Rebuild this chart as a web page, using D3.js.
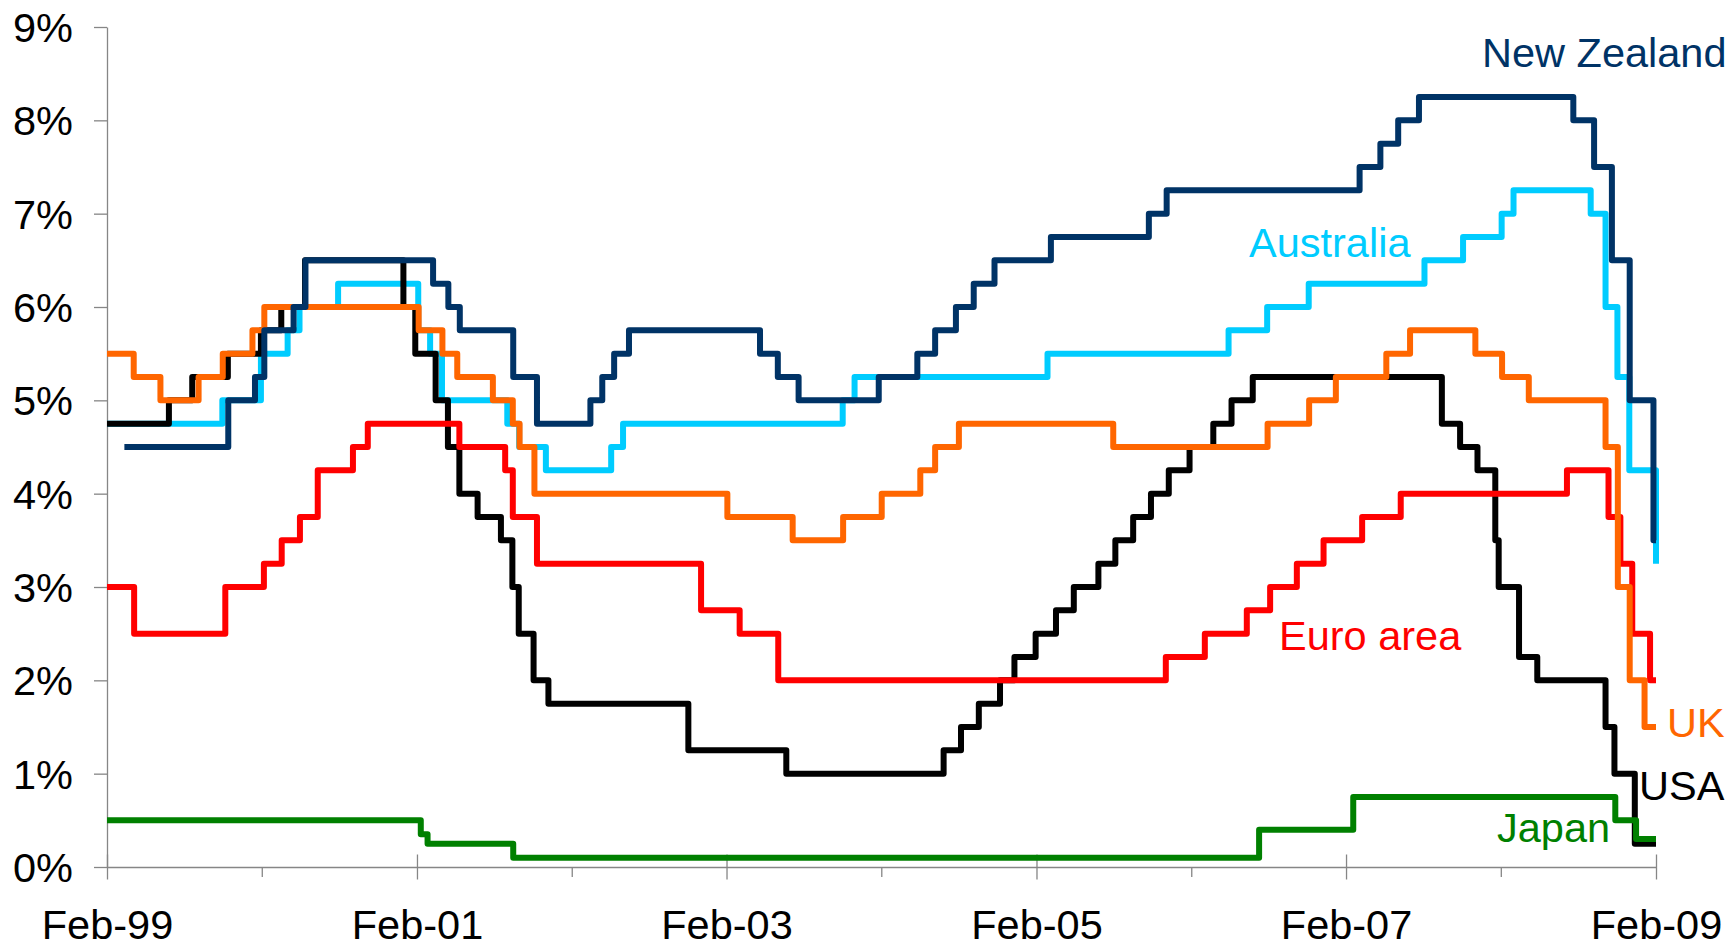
<!DOCTYPE html>
<html>
<head>
<meta charset="utf-8">
<script src="https://cdn.jsdelivr.net/npm/d3@7"></script>
<style>
  html, body { margin: 0; padding: 0; background: #fff; }
  svg { display: block; font-family: "Liberation Sans", Arial, sans-serif; }
</style>
</head>
<body>
<svg id="chart" width="1735" height="949"></svg>
<script>
// ---- Data: policy rate change points [date, rate %] ----
const startDate = "1999-02-04";
const endDate = "2009-02-04";

const australia = [
  ["1999-02-04",4.75],["1999-11-03",5.00],["2000-02-02",5.50],["2000-04-05",5.75],["2000-05-03",6.00],
  ["2000-08-02",6.25],["2001-02-07",5.75],["2001-03-07",5.50],["2001-04-04",5.00],["2001-09-05",4.75],
  ["2001-10-03",4.50],["2001-12-05",4.25],["2002-05-08",4.50],["2002-06-05",4.75],["2003-11-05",5.00],
  ["2003-12-03",5.25],["2005-03-02",5.50],["2006-05-03",5.75],["2006-08-02",6.00],["2006-11-08",6.25],
  ["2007-08-08",6.50],["2007-11-07",6.75],["2008-02-06",7.00],["2008-03-05",7.25],["2008-09-03",7.00],
  ["2008-10-08",6.00],["2008-11-05",5.25],["2008-12-03",4.25],["2009-02-04",3.25]
];

const usa = [
  ["1999-02-04",4.75],["1999-06-30",5.00],["1999-08-24",5.25],["1999-11-16",5.50],["2000-02-02",5.75],
  ["2000-03-21",6.00],["2000-05-16",6.50],["2001-01-03",6.00],["2001-01-31",5.50],["2001-03-20",5.00],
  ["2001-04-18",4.50],["2001-05-15",4.00],["2001-06-27",3.75],["2001-08-21",3.50],["2001-09-17",3.00],
  ["2001-10-02",2.50],["2001-11-06",2.00],["2001-12-11",1.75],["2002-11-06",1.25],["2003-06-25",1.00],
  ["2004-06-30",1.25],["2004-08-10",1.50],["2004-09-21",1.75],["2004-11-10",2.00],["2004-12-14",2.25],
  ["2005-02-02",2.50],["2005-03-22",2.75],["2005-05-03",3.00],["2005-06-30",3.25],["2005-08-09",3.50],
  ["2005-09-20",3.75],["2005-11-01",4.00],["2005-12-13",4.25],["2006-01-31",4.50],["2006-03-28",4.75],
  ["2006-05-10",5.00],["2006-06-29",5.25],["2007-09-18",4.75],["2007-10-31",4.50],["2007-12-11",4.25],
  ["2008-01-22",3.50],["2008-01-30",3.00],["2008-03-18",2.25],["2008-04-30",2.00],["2008-10-08",1.50],
  ["2008-10-29",1.00],["2008-12-16",0.25],["2009-02-04",0.25]
];

const euroArea = [
  ["1999-02-04",3.00],["1999-04-09",2.50],["1999-11-10",3.00],["2000-02-09",3.25],["2000-03-22",3.50],
  ["2000-05-04",3.75],["2000-06-15",4.25],["2000-09-06",4.50],["2000-10-11",4.75],["2001-05-15",4.50],
  ["2001-08-31",4.25],["2001-09-18",3.75],["2001-11-14",3.25],["2002-12-06",2.75],["2003-03-07",2.50],
  ["2003-06-06",2.00],["2005-12-06",2.25],["2006-03-08",2.50],["2006-06-15",2.75],["2006-08-09",3.00],
  ["2006-10-11",3.25],["2006-12-13",3.50],["2007-03-14",3.75],["2007-06-13",4.00],["2008-07-09",4.25],
  ["2008-10-15",3.75],["2008-11-12",3.25],["2008-12-10",2.50],["2009-01-21",2.00],["2009-02-04",2.00]
];

const uk = [
  ["1999-02-04",5.50],["1999-04-08",5.25],["1999-06-10",5.00],["1999-09-08",5.25],["1999-11-04",5.50],
  ["2000-01-13",5.75],["2000-02-10",6.00],["2001-02-08",5.75],["2001-04-05",5.50],["2001-05-10",5.25],
  ["2001-08-02",5.00],["2001-09-18",4.75],["2001-10-04",4.50],["2001-11-08",4.00],["2003-02-06",3.75],
  ["2003-07-10",3.50],["2003-11-06",3.75],["2004-02-05",4.00],["2004-05-06",4.25],["2004-06-10",4.50],
  ["2004-08-05",4.75],["2005-08-04",4.50],["2006-08-03",4.75],["2006-11-09",5.00],["2007-01-11",5.25],
  ["2007-05-10",5.50],["2007-07-05",5.75],["2007-12-06",5.50],["2008-02-07",5.25],["2008-04-10",5.00],
  ["2008-10-08",4.50],["2008-11-06",3.00],["2008-12-04",2.00],["2009-01-08",1.50],["2009-02-04",1.50]
];

const newZealand = [
  ["1999-03-17",4.50],["1999-11-17",5.00],["2000-01-19",5.25],["2000-02-10",5.75],["2000-04-19",6.00],
  ["2000-05-17",6.50],["2001-03-14",6.25],["2001-04-19",6.00],["2001-05-16",5.75],["2001-09-19",5.25],
  ["2001-11-14",4.75],["2002-03-20",5.00],["2002-04-17",5.25],["2002-05-15",5.50],["2002-06-19",5.75],
  ["2003-04-24",5.50],["2003-06-05",5.25],["2003-07-24",5.00],["2004-01-29",5.25],["2004-04-29",5.50],
  ["2004-06-10",5.75],["2004-07-29",6.00],["2004-09-09",6.25],["2004-10-28",6.50],["2005-03-10",6.75],
  ["2005-10-27",7.00],["2005-12-08",7.25],["2007-03-08",7.50],["2007-04-26",7.75],["2007-06-07",8.00],
  ["2007-07-26",8.25],["2008-07-24",8.00],["2008-09-11",7.50],["2008-10-23",6.50],["2008-12-04",5.00],
  ["2009-01-29",3.50],["2009-02-04",3.50]
];

const japan = [
  ["1999-02-04",0.50],["2001-02-13",0.35],["2001-03-01",0.25],["2001-09-19",0.10],["2006-07-14",0.40],
  ["2007-02-21",0.75],["2008-10-31",0.50],["2008-12-19",0.30],["2009-02-04",0.30]
];

const yTickValues = [0,1,2,3,4,5,6,7,8,9];
const xMajorTicks = ["1999-02-04","2001-02-04","2003-02-04","2005-02-04","2007-02-04","2009-02-04"];
const xMinorTicks = ["2000-02-04","2002-02-04","2004-02-04","2006-02-04","2008-02-04"];

const seriesNames = ["Australia","USA","Euro area","UK","New Zealand","Japan"];
const seriesData  = [australia, usa, euroArea, uk, newZealand, japan];

// ---- Styles / layout ----
const colors = {
  "Australia":"#00CCFF","USA":"#000000","Euro area":"#FF0000",
  "UK":"#FF6600","New Zealand":"#003366","Japan":"#008000"
};
const labelPos = {
  "New Zealand":[1482,67], "Australia":[1249,257], "Euro area":[1279,650],
  "UK":[1667,737], "USA":[1639,800], "Japan":[1497,842]
};
const fontSize = 41.5;
const axisColor = "#868686";

const parse = d3.timeParse("%Y-%m-%d");
const svg = d3.select("#chart");

const x = d3.scaleTime().domain([parse(startDate), parse(endDate)]).range([107, 1656]);
const y = d3.scaleLinear().domain([0, 9]).range([867, 27]);

// Y axis
const yAxis = svg.append("g").attr("transform", `translate(${x.range()[0]},0)`)
  .call(d3.axisLeft(y).tickValues(yTickValues).tickSize(13).tickSizeOuter(0)
    .tickFormat(d => d + "%"));
yAxis.select(".domain").attr("stroke", axisColor).attr("stroke-width", 1.3);
yAxis.selectAll(".tick line").attr("stroke", axisColor).attr("stroke-width", 1.3);
yAxis.selectAll(".tick text").attr("x", -34).attr("dy", "0.35em")
  .attr("font-size", fontSize).attr("fill", "#000")
  .attr("font-family", "'Liberation Sans', Arial, sans-serif");

// X axis minor ticks
const xMinor = svg.append("g").attr("transform", `translate(0,${y(0)})`)
  .call(d3.axisBottom(x).tickValues(xMinorTicks.map(parse)).tickSize(10).tickSizeOuter(0)
    .tickFormat(() => ""));
xMinor.select(".domain").remove();
xMinor.selectAll(".tick line").attr("stroke", axisColor).attr("stroke-width", 1.3);

// X axis major ticks
const xAxis = svg.append("g").attr("transform", `translate(0,${y(0)})`)
  .call(d3.axisBottom(x).tickValues(xMajorTicks.map(parse)).tickSize(12).tickSizeOuter(0)
    .tickFormat(d3.timeFormat("%b-%y")));
xAxis.select(".domain").attr("stroke", axisColor).attr("stroke-width", 1.3);
xAxis.selectAll(".tick line").attr("stroke", axisColor).attr("stroke-width", 1.3)
  .attr("y1", -12.5).attr("y2", 12.5);
xAxis.selectAll(".tick text").attr("y", 72).attr("dy", 0)
  .attr("font-size", fontSize).attr("fill", "#000")
  .attr("font-family", "'Liberation Sans', Arial, sans-serif");

// Lines
const line = d3.line()
  .x(d => x(parse(d[0])))
  .y(d => y(d[1]))
  .curve(d3.curveStepAfter);

svg.append("g").selectAll("path.series")
  .data(seriesNames.map((n, i) => ({name: n, values: seriesData[i]})))
  .join("path")
  .attr("class", "series")
  .attr("fill", "none")
  .attr("stroke", d => colors[d.name])
  .attr("stroke-width", 6)
  .attr("stroke-linejoin", "round")
  .attr("stroke-linecap", "butt")
  .attr("d", d => line(d.values));

// Series labels
svg.append("g").selectAll("text.lbl")
  .data(seriesNames)
  .join("text")
  .attr("class", "lbl")
  .attr("x", d => labelPos[d][0])
  .attr("y", d => labelPos[d][1])
  .attr("fill", d => colors[d])
  .attr("font-size", fontSize)
  .text(d => d);
</script>
</body>
</html>
